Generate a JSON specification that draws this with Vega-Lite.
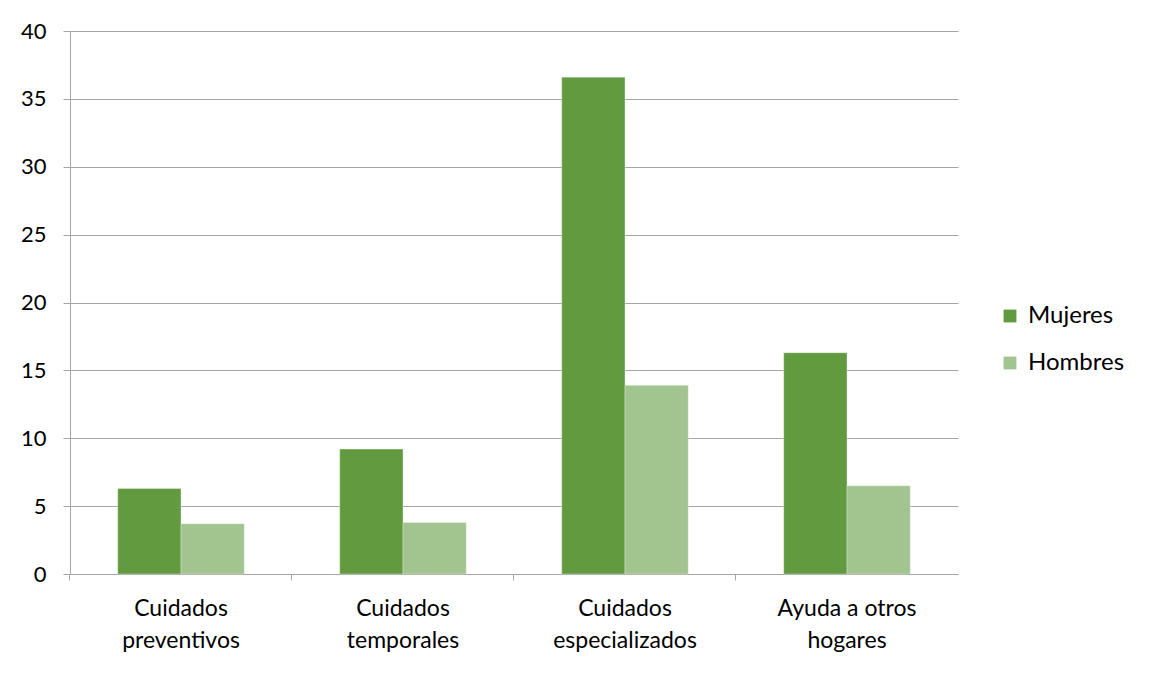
{
  "$schema": "https://vega.github.io/schema/vega-lite/v6.json",
  "width": 888,
  "height": 543,
  "autosize": {"type": "none"},
  "padding": {"left": 70, "top": 31, "right": 195, "bottom": 101},
  "background": "white",
  "config": {
    "font": "Lato",
    "view": {"stroke": null},
    "axis": {"labelFont": "Lato", "labelColor": "#000000", "domainColor": "#A6A6A6", "tickColor": "#A6A6A6", "gridColor": "#A6A6A6"}
  },
  "data": {
    "values": [
      {"categoria": "Cuidados preventivos", "sexo": "Mujeres", "valor": 6.3},
      {"categoria": "Cuidados preventivos", "sexo": "Hombres", "valor": 3.7},
      {"categoria": "Cuidados temporales", "sexo": "Mujeres", "valor": 9.2},
      {"categoria": "Cuidados temporales", "sexo": "Hombres", "valor": 3.8},
      {"categoria": "Cuidados especializados", "sexo": "Mujeres", "valor": 36.6},
      {"categoria": "Cuidados especializados", "sexo": "Hombres", "valor": 13.9},
      {"categoria": "Ayuda a otros hogares", "sexo": "Mujeres", "valor": 16.3},
      {"categoria": "Ayuda a otros hogares", "sexo": "Hombres", "valor": 6.5}
    ]
  },
  "mark": {"type": "bar", "stroke": "#ffffff", "strokeOpacity": 0.4, "strokeWidth": 0.8},
  "encoding": {
    "x": {
      "field": "categoria",
      "type": "nominal",
      "sort": null,
      "scale": {"paddingInner": 0.43, "paddingOuter": 0.215},
      "axis": {
        "title": null,
        "labelAngle": 0,
        "bandPosition": -0.3775,
        "labelFontSize": 23,
        "labelPadding": 17,
        "labelLineHeight": 32,
        "labelBaseline": "top",
        "tickSize": 6,
        "grid": false,
        "labelExpr": "datum.label == 'Ayuda a otros hogares' ? ['Ayuda a otros', 'hogares'] : split(datum.label, ' ')"
      }
    },
    "xOffset": {"field": "sexo", "type": "nominal", "sort": ["Mujeres", "Hombres"], "scale": {"paddingInner": 0, "paddingOuter": 0}},
    "y": {
      "field": "valor",
      "type": "quantitative",
      "scale": {"domain": [0, 40], "nice": false},
      "axis": {
        "title": null,
        "values": [0, 5, 10, 15, 20, 25, 30, 35, 40],
        "labelFontSize": 22,
        "tickSize": 7,
        "labelPadding": 17,
        "grid": true,
        "gridColor": "#A6A6A6"
      }
    },
    "color": {
      "field": "sexo",
      "type": "nominal",
      "sort": ["Mujeres", "Hombres"],
      "scale": {"domain": ["Mujeres", "Hombres"], "range": ["#629B3F", "#A2C590"]},
      "legend": {
        "title": null,
        "orient": "none",
        "legendX": 928,
        "legendY": 273,
        "symbolType": "square",
        "symbolSize": 165,
        "symbolStrokeWidth": 0,
        "labelFontSize": 24,
        "labelFont": "Lato",
        "labelColor": "#000000",
        "labelOffset": 6,
        "rowPadding": 23
      }
    }
  }
}
